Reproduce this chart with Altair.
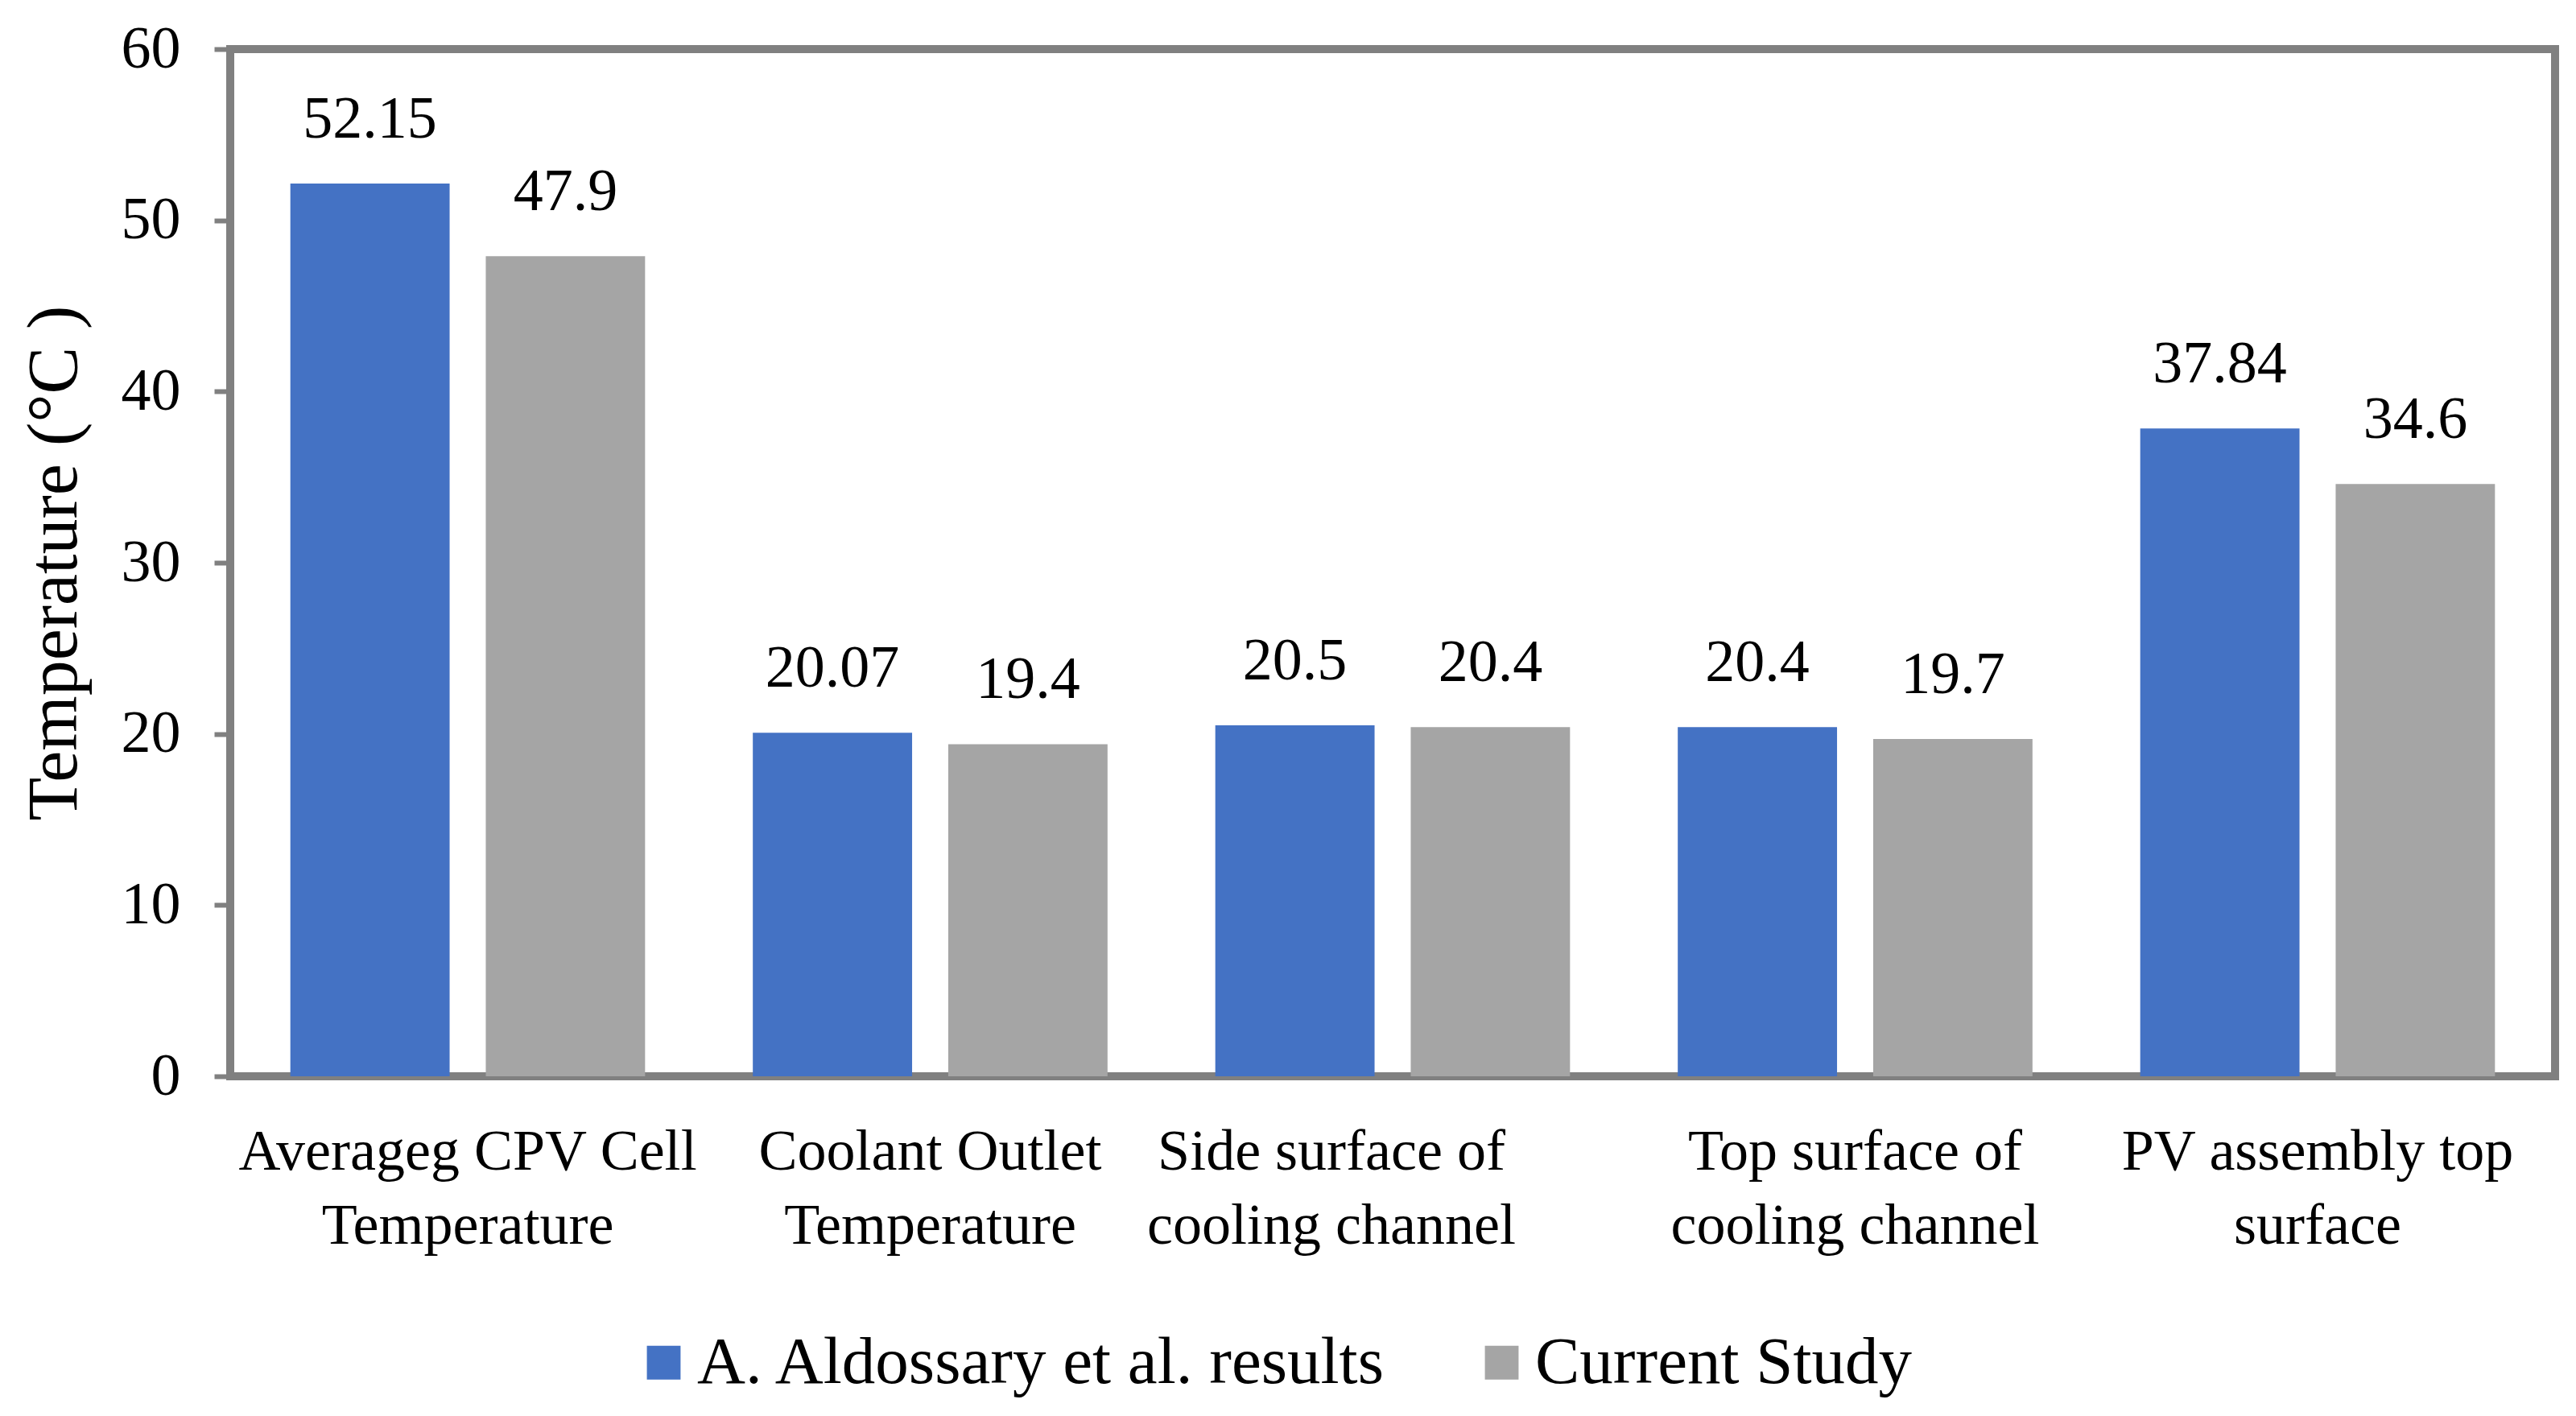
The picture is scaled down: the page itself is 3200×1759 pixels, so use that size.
import altair as alt
import pandas as pd

categories = [
    "Averageg CPV Cell\nTemperature",
    "Coolant Outlet\nTemperature",
    "Side surface of\ncooling channel",
    "Top surface of\ncooling channel",
    "PV assembly top\nsurface",
]
series = ["A. Aldossary et al. results", "Current Study"]
aldossary = [52.15, 20.07, 20.5, 20.4, 37.84]
current = [47.9, 19.4, 20.4, 19.7, 34.6]
colors = ["#4472C4", "#A5A5A5"]
y_ticks = [0, 10, 20, 30, 40, 50, 60]

rows = []
for c, a, b in zip(categories, aldossary, current):
    rows.append({"category": c, "series": series[0], "value": a, "label": str(a)})
    rows.append({"category": c, "series": series[1], "value": b, "label": str(b)})
df = pd.DataFrame(rows)

FONT = "Liberation Serif"

x = alt.X(
    "category:N",
    sort=categories,
    scale=alt.Scale(paddingInner=0.233, paddingOuter=0.13),
    axis=alt.Axis(
        title=None,
        labelAngle=0,
        labelExpr="split(datum.label, '\\n')",
        labelFont=FONT,
        labelFontSize=72,
        labelLineHeight=92,
        labelPadding=58,
        labelColor="black",
        labelOffset={
            "condition": {"test": "indexof(datum.value, 'Side') == 0", "value": -76},
            "value": 0,
        },
        ticks=False,
        domain=False,
        labelLimit=0,
    ),
)
xoff = alt.XOffset("series:N", sort=series, scale=alt.Scale(paddingInner=0.185))
y = alt.Y(
    "value:Q",
    scale=alt.Scale(domain=[0, 60], nice=False),
    axis=alt.Axis(
        title="Temperature (°C )",
        values=y_ticks,
        grid=False,
        domain=False,
        tickColor="#808080",
        tickWidth=6,
        tickSize=20,
        labelFont=FONT,
        labelFontSize=74,
        labelColor="black",
        labelPadding=42,
        titleFont=FONT,
        titleFontSize=88,
        titleFontWeight="normal",
        titleColor="black",
        titleX=-218,
        titleBaseline="middle",
    ),
)

bars = alt.Chart(df).mark_bar().encode(
    x=x,
    xOffset=xoff,
    y=y,
    color=alt.Color(
        "series:N",
        sort=series,
        scale=alt.Scale(domain=series, range=colors),
        legend=alt.Legend(
            title=None,
            orient="none",
            direction="horizontal",
            legendX=497,
            legendY=1590,
            symbolType="square",
            symbolSize=1750,
            symbolStrokeWidth=0,
            labelFont=FONT,
            labelFontSize=83,
            labelColor="black",
            labelOffset=0,
            columnPadding=100,
            labelLimit=0,
        ),
    ),
)

labels = alt.Chart(df).mark_text(
    font=FONT, fontSize=74, baseline="alphabetic", dy=-57, color="black"
).encode(
    x=x,
    xOffset=xoff,
    y=y,
    text="label:N",
)

chart = (
    alt.layer(bars, labels)
    .properties(
        width=2888,
        height=1276,
        autosize=alt.AutoSizeParams(type="none"),
        padding={"left": 278, "top": 53, "right": 18, "bottom": 400},
        background="white",
    )
    .configure_view(stroke="#808080", strokeWidth=10)
)

chart.save("out.html", embed_options={"renderer": "svg", "actions": False})
